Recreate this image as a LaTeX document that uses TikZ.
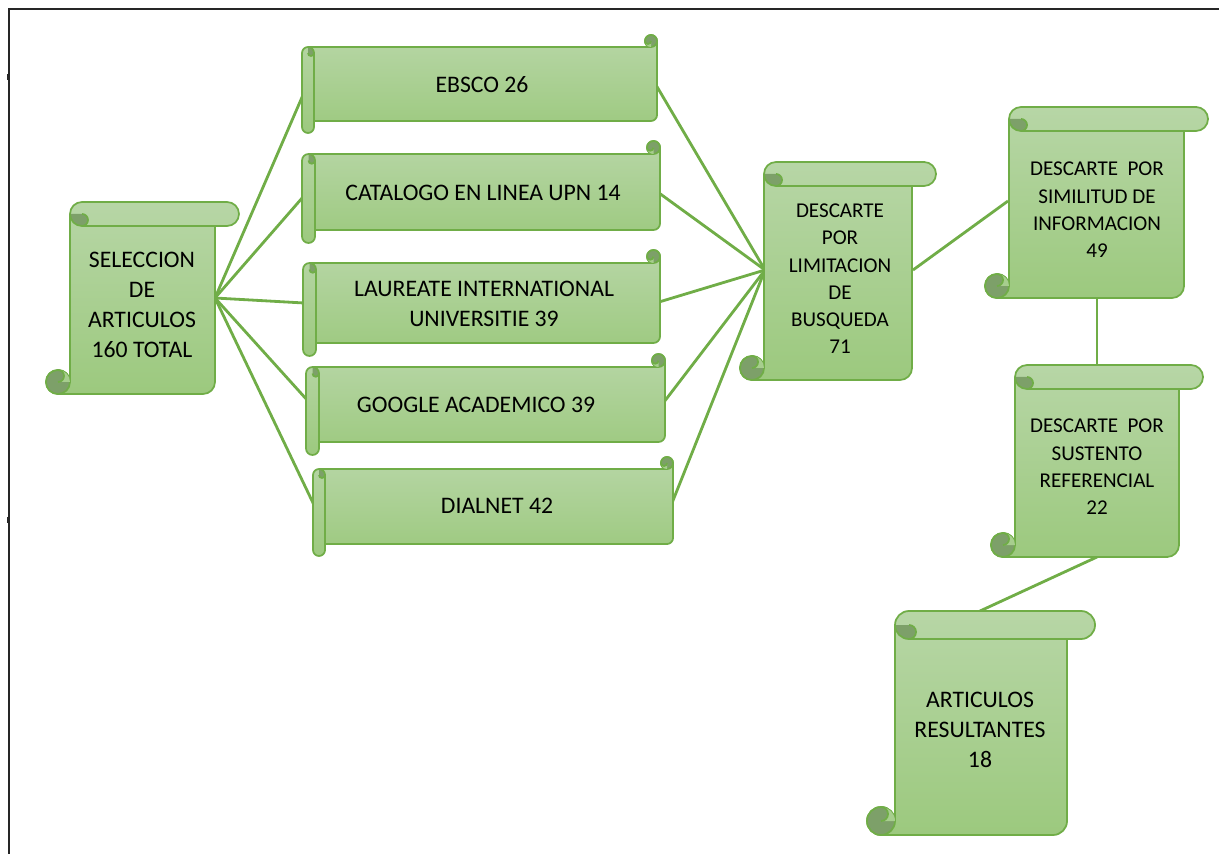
\documentclass[tikz,border=0pt]{standalone}
\usepackage{fontspec}
\setmainfont{Carlito}
\usepackage{tikz}
\usetikzlibrary{calc}

\definecolor{hijau}{RGB}{112,173,71}
\definecolor{hijaumuda}{RGB}{183,214,166}
\definecolor{hijautua}{RGB}{156,201,126}
\definecolor{gelap}{RGB}{125,160,105}

\tikzset{
  isi/.style={draw=hijau, line width=1pt, line join=round, top color=hijaumuda, bottom color=hijautua},
  gulung/.style={draw=hijau, line width=1pt, fill=gelap},
  terang/.style={fill=hijautua!60!hijaumuda},
  garis/.style={draw=hijau, line width=1pt},
  sambung/.style={draw=hijau, line width=1.6pt},
  besar/.style={font=\fontsize{13.5}{17}\selectfont, align=center},
  kecil/.style={font=\fontsize{12}{15.5}\selectfont, align=center},
}

% gulungan tegak: x0 y0 x1 y1 ukuran
\newcommand{\gulungV}[5]{%
  \pgfmathsetmacro\xa{#1}\pgfmathsetmacro\ya{#2}%
  \pgfmathsetmacro\xb{#3}\pgfmathsetmacro\yb{#4}%
  \pgfmathsetmacro\cc{#5}\pgfmathsetmacro\hh{#5/2}\pgfmathsetmacro\qq{#5/4}%
  \path[isi] ({\xa+\cc},{\ya+\hh}) -- ({\xa+\cc},{\yb-\hh})
    arc[start angle=0,end angle=-270,radius=\hh]
    -- ({\xb-\cc-\hh},\yb) arc[start angle=90,end angle=0,radius=\hh]
    -- ({\xb-\cc},{\ya+\cc}) -- ({\xb-\hh},{\ya+\cc})
    arc[start angle=90,end angle=-90,radius=\hh]
    -- ({\xa+\cc+\hh},\ya) arc[start angle=-90,end angle=-180,radius=\hh] -- cycle;
  \fill[gelap] ({\xa+\cc},{\ya+\hh}) arc[start angle=180,end angle=90,radius=\hh]
    arc[start angle=90,end angle=-90,radius=\qq] -- cycle;
  \draw[garis] ({\xa+\cc},{\ya+\hh}) arc[start angle=180,end angle=90,radius=\hh]
    arc[start angle=90,end angle=-90,radius=\qq];
  \draw[garis] ({\xa+\cc+\hh},{\ya+\cc}) -- ({\xb-\cc},{\ya+\cc});
  \filldraw[gulung] ({\xa+\hh},{\yb-\hh}) circle[radius=\hh];
  \fill[terang] ({\xa+\hh},{\yb-\cc}) arc[start angle=-90,end angle=0,radius=\hh]
    -- ({\xa+\hh},{\yb-\hh}) arc[start angle=90,end angle=-90,radius=\qq] -- cycle;
  \draw[garis] ({\xa+\hh},{\yb-\hh}) arc[start angle=90,end angle=-90,radius=\qq];
}

% gulungan mendatar: x0 y0 x1 y1 ukuran
\newcommand{\gulungH}[5]{%
  \pgfmathsetmacro\xa{#1}\pgfmathsetmacro\ya{#2}%
  \pgfmathsetmacro\xb{#3}\pgfmathsetmacro\yb{#4}%
  \pgfmathsetmacro\cc{#5}\pgfmathsetmacro\hh{#5/2}\pgfmathsetmacro\qq{#5/4}%
  \path[isi] ({\xa+\hh},{\ya+\cc}) -- ({\xb-\hh},{\ya+\cc})
    arc[start angle=90,end angle=360,radius=\hh]
    -- (\xb,{\yb-\cc-\hh}) arc[start angle=0,end angle=90,radius=\hh]
    -- ({\xa+\cc},{\yb-\cc}) -- ({\xa+\cc},{\yb-\hh})
    arc[start angle=0,end angle=180,radius=\hh]
    -- (\xa,{\ya+\cc+\hh}) arc[start angle=180,end angle=270,radius=\hh] -- cycle;
  \fill[gelap] ({\xa+\hh},{\ya+\cc}) arc[start angle=-90,end angle=0,radius=\hh]
    arc[start angle=0,end angle=180,radius=\qq] -- cycle;
  \draw[garis] ({\xa+\hh},{\ya+\cc}) arc[start angle=-90,end angle=0,radius=\hh]
    arc[start angle=0,end angle=180,radius=\qq];
  \draw[garis] ({\xa+\cc},{\ya+\cc+\hh}) -- ({\xa+\cc},{\yb-\cc});
  \filldraw[gulung] ({\xb-\hh},{\ya+\hh}) circle[radius=\hh];
  \fill[terang] ({\xb-\cc},{\ya+\hh}) arc[start angle=180,end angle=90,radius=\hh]
    -- ({\xb-\hh},{\ya+\hh}) arc[start angle=0,end angle=180,radius=\qq] -- cycle;
  \draw[garis] ({\xb-\hh},{\ya+\hh}) arc[start angle=0,end angle=180,radius=\qq];
}

\begin{document}
\begin{tikzpicture}[x=0.02cm,y=-0.02cm]
    \useasboundingbox (0,0) rectangle (1219,854);

    % bingkai
    \draw[line width=1.1pt, black!85] (9,854) -- (9,9) -- (1219,9);
    \fill[black!85] (7,74) rectangle (10,80);
    \fill[black!85] (7,517) rectangle (10,523);

    % titik-titik sambung
    \coordinate (S)  at (215,298);
    \coordinate (E1) at (303,95);
    \coordinate (E2) at (303,197);
    \coordinate (E3) at (304,303);
    \coordinate (E4) at (308,401);
    \coordinate (E5) at (314,505);
    \coordinate (F1) at (656,85);
    \coordinate (F2) at (659,193);
    \coordinate (F3) at (659,302);
    \coordinate (F4) at (664,402);
    \coordinate (F5) at (672,503);
    \coordinate (L1) at (765,270);
    \coordinate (L2) at (913,270);
    \coordinate (M1) at (1008,201);
    \coordinate (M2) at (1097,298);
    \coordinate (N1) at (1097,365);
    \coordinate (N2) at (1097,557);
    \coordinate (R)  at (980,611);

    % garis penghubung
    \foreach \i in {1,...,5} {
      \draw[sambung] (S) -- (E\i);
      \draw[sambung] (F\i) -- (L1);
    }
    \draw[sambung] (L2) -- (M1);
    \draw[sambung] (M2) -- (N1);
    \draw[sambung] (N2) -- (R);

    % gulungan
    \gulungV{46}{202}{239}{394}{24}
    \gulungH{302}{35}{657}{133}{12}
    \gulungH{302}{141}{660}{243}{13}
    \gulungH{303}{250}{660}{356}{13}
    \gulungH{306}{354}{665}{455}{13}
    \gulungH{313}{457}{673}{556}{12}
    \gulungV{740}{162}{936}{380}{24}
    \gulungV{985}{107}{1208}{298}{24}
    \gulungV{991}{365}{1203}{557}{24}
    \gulungV{867}{611}{1095}{835}{28}

    % tulisan
    \node[besar] (sel) at (142,305) {SELECCION\\DE\\ARTICULOS\\160 TOTAL};
    \node[besar] (ebs) at (482,85)  {EBSCO 26};
    \node[besar] (cat) at (483,193) {CATALOGO EN LINEA UPN 14};
    \node[besar] (lau) at (484,304) {LAUREATE INTERNATIONAL\\UNIVERSITIE 39};
    \node[besar] (goo) at (476,405) {GOOGLE ACADEMICO 39};
    \node[besar] (dia) at (497,506) {DIALNET 42};
    \node[kecil] (lim) at (840,279) {DESCARTE\\POR\\LIMITACION\\DE\\BUSQUEDA\\71};
    \node[kecil] (sim) at (1097,210) {DESCARTE\ \ POR\\SIMILITUD DE\\INFORMACION\\49};
    \node[kecil] (sus) at (1097,467) {DESCARTE\ \ POR\\SUSTENTO\\REFERENCIAL\\22};
    \node[besar] (art) at (980,730) {ARTICULOS\\RESULTANTES\\18};
\end{tikzpicture}
\end{document}
